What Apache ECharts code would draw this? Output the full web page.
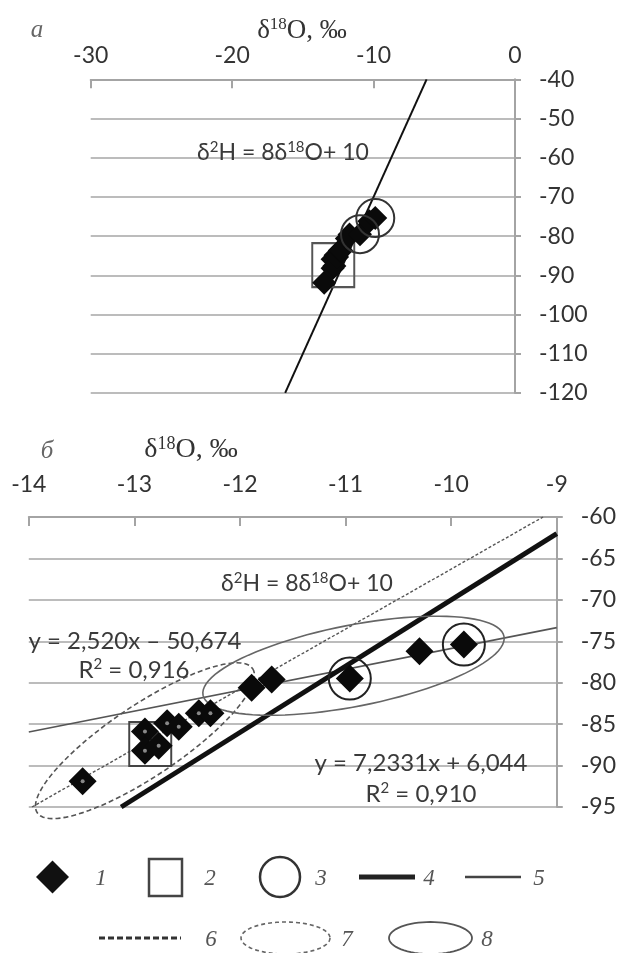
<!DOCTYPE html>
<html><head><meta charset="utf-8">
<script src="https://cdn.jsdelivr.net/npm/echarts@6/dist/echarts.min.js"></script>
<style>html,body{margin:0;padding:0;background:#fff}#c{width:619px;height:953px}</style>
</head><body><div id="c"></div>
<script>
// ---- data ----
// group of lower points (1), with small centre dots
const groupAX = [-13.49, -12.90, -12.90, -12.77, -12.69, -12.58, -12.39, -12.28];
const groupAY = [-91.9, -85.9, -88.2, -87.6, -84.9, -85.3, -83.7, -83.7];
// group of upper points (1)
const groupBX = [-11.89, -11.70, -10.96, -10.30, -9.88];
const groupBY = [-80.6, -79.6, -79.5, -76.2, -75.4];
// square marker (2)
const squareX = [-12.85];
const squareY = [-87.4];
// circle markers (3)
const circleX = [-10.96, -9.88];
const circleY = [-79.5, -75.4];
// GMWL  d2H = 8 d18O + 10 (4)
const gmwlTopX = [-16.25, -6.25];
const gmwlTopY = [-120, -40];
const gmwlLowX = [-13.125, -9];
const gmwlLowY = [-95, -62];
// trend y = 2,520x - 50,674 (5)
const trend5X = [-14, -9];
const trend5Y = [-85.95, -73.35];
// trend y = 7,2331x + 6,044 (6)
const trend6X = [-13.97, -9.13];
const trend6Y = [-95.0, -60.0];
// ellipses: tip1 x, tip1 y, tip2 x, tip2 y, minor/major ratio
const ellipse7 = [-13.92, -95.7, -11.88, -78.3, 0.275];
const ellipse8 = [-12.35, -81.5, -9.50, -74.4, 0.265];
// axes
const topXRange = [-30, 0, 10];
const topYRange = [-120, -40, 10];
const lowXRange = [-14, -9, 1];
const lowYRange = [-95, -60, 5];

const zip = (a, b) => a.map((v, i) => [v, b[i]]);

const SANS = 'Lato';
const SERIF = 'Liberation Serif';
const GRID = '#bcbcbc';
const AXIS = '#a4a4a4';
const LBL = '#333';

function xAx(gi, r, margin) {
  return {gridIndex: gi, type: 'value', position: 'top', min: r[0], max: r[1], interval: r[2],
    axisLine: {show: true, onZero: false, lineStyle: {color: AXIS, width: 2}},
    axisTick: {show: true, inside: true, length: 9, lineStyle: {color: AXIS, width: 2}},
    axisLabel: {margin: margin, fontSize: 23, fontFamily: SANS, color: LBL},
    splitLine: {show: false}};
}
function yAx(gi, r) {
  return {gridIndex: gi, type: 'value', position: 'right', min: r[0], max: r[1], interval: r[2],
    axisLine: {show: true, onZero: false, lineStyle: {color: AXIS, width: 2}},
    axisTick: {show: true, inside: false, length: 6, lineStyle: {color: AXIS, width: 2}},
    axisLabel: {margin: 24, fontSize: 23, fontFamily: SANS, color: LBL},
    splitLine: {show: true, lineStyle: {color: GRID, width: 2}}};
}
function ellipseSeries(gi, e, stroke, lw, dash) {
  return {type: 'custom', xAxisIndex: gi, yAxisIndex: gi, clip: false, silent: true, z: 3,
    encode: {x: [0, 2], y: [1, 3]},
    renderItem: function (params, api) {
      const p1 = api.coord([api.value(0), api.value(1)]);
      const p2 = api.coord([api.value(2), api.value(3)]);
      const ratio = api.value(4);
      const cx = (p1[0] + p2[0]) / 2, cy = (p1[1] + p2[1]) / 2;
      const dx = p2[0] - p1[0], dy = p2[1] - p1[1];
      const a = Math.hypot(dx, dy) / 2, b = a * ratio, th = Math.atan2(dy, dx);
      const pts = [];
      for (let i = 0; i < 96; i++) {
        const t = i / 96 * 2 * Math.PI;
        const ex = a * Math.cos(t), ey = b * Math.sin(t);
        pts.push([cx + ex * Math.cos(th) - ey * Math.sin(th), cy + ex * Math.sin(th) + ey * Math.cos(th)]);
      }
      return {type: 'polygon', shape: {points: pts},
        style: {fill: 'none', stroke: stroke, lineWidth: lw, lineDash: dash || null}};
    },
    data: [e]};
}
function lineSeries(gi, xs, ys, color, width, type, z) {
  return {type: 'line', xAxisIndex: gi, yAxisIndex: gi, data: zip(xs, ys), symbol: 'none',
    silent: true, z: z || 2, lineStyle: {color: color, width: width, type: type || 'solid'}};
}
function scatter(gi, xs, ys, sym, size, item, z) {
  return {type: 'scatter', xAxisIndex: gi, yAxisIndex: gi, data: zip(xs, ys), symbol: sym,
    symbolSize: size, itemStyle: Object.assign({opacity: 1}, item), z: z, silent: true};
}

function txt(x, y, text, opt) {
  opt = opt || {};
  const supSize = opt.supSize || 15;
  const lh = opt.lineHeight || 26;
  const o = Object.assign({}, opt);
  delete o.supSize;
  return {type: 'text', x: x, y: y, silent: true, z: 50,
    style: Object.assign({text: text, align: 'center', verticalAlign: 'middle',
      fontSize: 23, fontFamily: SANS, fill: '#3a3a3a', lineHeight: lh,
      rich: {s: {fontSize: supSize, fontFamily: opt.fontFamily || SANS, verticalAlign: 'top', lineHeight: lh, fill: opt.fill || '#3a3a3a'}}}, o)};
}
function ellipsePts(cx, cy, rx, ry) {
  const p = [];
  for (let i = 0; i < 64; i++) { const t = i / 64 * 2 * Math.PI; p.push([cx + rx * Math.cos(t), cy + ry * Math.sin(t)]); }
  return p;
}
const NUM = {fontFamily: SERIF, fontStyle: 'italic', fontSize: 23, fill: '#555'};

const allX = groupAX.concat(groupBX), allY = groupAY.concat(groupBY);

const option = {
  animation: false,
  backgroundColor: '#fff',
  grid: [
    {left: 90.7, right: 104, top: 79.3, height: 313.6},
    {left: 28.8, right: 61, top: 517, height: 290}
  ],
  xAxis: [xAx(0, topXRange, 12), xAx(1, lowXRange, 21)],
  yAxis: [yAx(0, topYRange), yAx(1, lowYRange)],
  series: [
    // top panel
    lineSeries(0, gmwlTopX, gmwlTopY, '#111', 2, 'solid', 2),
    scatter(0, squareX, squareY, 'rect', [42, 44], {color: 'rgba(0,0,0,0)', borderColor: '#555', borderWidth: 2}, 3),
    scatter(0, allX, allY, 'diamond', 24, {color: '#0a0a0a'}, 4),
    scatter(0, circleX, circleY, 'circle', 38, {color: 'rgba(0,0,0,0)', borderColor: '#333', borderWidth: 2}, 5),
    // lower panel
    lineSeries(1, trend5X, trend5Y, '#555', 1.6, 'solid', 2),
    lineSeries(1, trend6X, trend6Y, '#555', 1.4, [3, 2], 2),
    lineSeries(1, gmwlLowX, gmwlLowY, '#111', 5, 'solid', 2),
    ellipseSeries(1, ellipse7, '#555', 1.6, [5, 3]),
    ellipseSeries(1, ellipse8, '#666', 1.6, null),
    scatter(1, squareX, squareY, 'rect', [42, 44], {color: 'rgba(0,0,0,0)', borderColor: '#444', borderWidth: 2}, 3),
    scatter(1, groupAX, groupAY, 'diamond', 28, {color: '#0a0a0a'}, 4),
    scatter(1, groupBX, groupBY, 'diamond', 28, {color: '#0a0a0a'}, 4),
    scatter(1, groupAX, groupAY, 'circle', 4, {color: '#888'}, 5),
    scatter(1, circleX, circleY, 'circle', 42, {color: 'rgba(0,0,0,0)', borderColor: '#222', borderWidth: 2}, 5)
  ],
  graphic: [
    txt(37, 30, 'а', {fontFamily: SERIF, fontStyle: 'italic', fontSize: 25, fill: '#666'}),
    txt(302, 31, 'δ{s|18}O, ‰', {fontFamily: SERIF, fontSize: 27, supSize: 17, lineHeight: 30, fill: '#333'}),
    txt(283, 153, 'δ{s|2}H = 8δ{s|18}O+ 10'),
    txt(47, 451, 'б', {fontFamily: SERIF, fontStyle: 'italic', fontSize: 25, fill: '#666'}),
    txt(191, 450, 'δ{s|18}O, ‰', {fontFamily: SERIF, fontSize: 28, supSize: 18, lineHeight: 30, fill: '#333'}),
    txt(307, 584, 'δ{s|2}H = 8δ{s|18}O+ 10'),
    txt(135, 641, 'y = 2,520x – 50,674', {fontSize: 24}),
    txt(134, 670, 'R{s|2} = 0,916', {fontSize: 24}),
    txt(421, 763, 'y = 7,2331x + 6,044', {fontSize: 24}),
    txt(421, 794, 'R{s|2} = 0,910', {fontSize: 24}),
    // legend row 1
    {type: 'polygon', shape: {points: [[52.5, 860.5], [69, 877], [52.5, 893.5], [36, 877]]}, style: {fill: '#111'}},
    txt(101, 879, '1', NUM),
    {type: 'rect', shape: {x: 149, y: 859, width: 33, height: 37}, style: {fill: 'none', stroke: '#444', lineWidth: 2.5}},
    txt(210, 879, '2', NUM),
    {type: 'circle', shape: {cx: 280, cy: 877, r: 20}, style: {fill: 'none', stroke: '#333', lineWidth: 2.5}},
    txt(321, 879, '3', NUM),
    {type: 'line', shape: {x1: 359, y1: 877, x2: 415, y2: 877}, style: {stroke: '#222', lineWidth: 5}},
    txt(429, 879, '4', NUM),
    {type: 'line', shape: {x1: 465, y1: 877, x2: 521, y2: 877}, style: {stroke: '#444', lineWidth: 2.5}},
    txt(539, 879, '5', NUM),
    // legend row 2
    {type: 'line', shape: {x1: 99, y1: 938, x2: 181, y2: 938}, style: {stroke: '#333', lineWidth: 3, lineDash: [6, 3]}},
    txt(211, 940, '6', NUM),
    {type: 'polygon', shape: {points: ellipsePts(285.5, 938, 44.5, 16)}, style: {fill: 'none', stroke: '#666', lineWidth: 1.6, lineDash: [4, 3]}},
    txt(347, 940, '7', NUM),
    {type: 'polygon', shape: {points: ellipsePts(430.5, 938, 41.5, 16)}, style: {fill: 'none', stroke: '#555', lineWidth: 1.8}},
    txt(487, 940, '8', NUM)
  ]
};
const chart = echarts.init(document.getElementById('c'));
chart.setOption(option);
</script>
</body></html>
